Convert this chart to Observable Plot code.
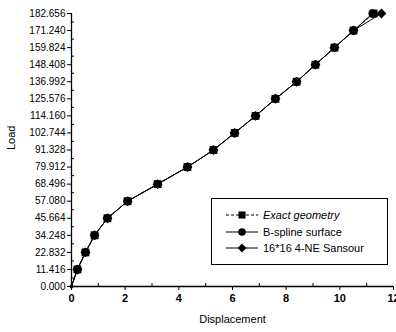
<!DOCTYPE html>
<html><head><meta charset="utf-8">
<script src="https://cdn.jsdelivr.net/npm/d3@7"></script>
<script src="https://cdn.jsdelivr.net/npm/@observablehq/plot@0.6"></script>
<style>
body{margin:0;background:#fff;}
#wrap{position:relative;width:396px;height:332px;font-family:"Liberation Sans",Arial,sans-serif;}
#legend{position:absolute;left:211px;top:198px;width:177px;height:67px;border:1px solid #000;box-sizing:border-box;background:#fff;font-size:11px;}
#legend .row{position:absolute;left:14px;height:16px;display:flex;align-items:center;}
#legend svg{margin-right:3px}
</style></head><body>
<div id="wrap"><div id="chart"></div><div id="legend"></div></div>
<script>
const loadTicks = [0, 11.416, 22.832, 34.248, 45.664, 57.080, 68.496, 79.912, 91.328, 102.744, 114.160, 125.576, 136.992, 148.408, 159.824, 171.240, 182.656];
const dispTicks = [0, 2, 4, 6, 8, 10, 12];
const dispMinor = [1, 3, 5, 7, 9, 11];
const loadValues = [0, 11.416, 22.832, 34.248, 45.664, 57.080, 68.496, 79.912, 91.328, 102.744, 114.160, 125.576, 136.992, 148.408, 159.824, 171.240, 182.656];
const exactDisp = [0, 0.22, 0.52, 0.86, 1.34, 2.09, 3.21, 4.32, 5.29, 6.08, 6.86, 7.60, 8.39, 9.09, 9.80, 10.51, 11.26];
const bsplineDisp = [0, 0.22, 0.52, 0.86, 1.34, 2.09, 3.21, 4.32, 5.29, 6.08, 6.86, 7.60, 8.39, 9.09, 9.80, 10.51, 11.22];
const sansourDisp = [0, 0.22, 0.52, 0.86, 1.34, 2.09, 3.21, 4.32, 5.29, 6.08, 6.86, 7.60, 8.39, 9.09, 9.80, 10.51, 11.55];
const seriesNames = ["Exact geometry", "B-spline surface", "16*16 4-NE Sansour"];

const loadMinor = loadTicks.slice(0, -1).map((v, i) => (v + loadTicks[i + 1]) / 2);
const mk = (disp) => disp.map((d, i) => ({x: d, y: loadValues[i]}));
const exact = mk(exactDisp), bspl = mk(bsplineDisp), sans = mk(sansourDisp);
const nz = (d) => d.y > 0;

const plot = Plot.plot({
  width: 396, height: 332,
  marginLeft: 71, marginRight: 3, marginTop: 13, marginBottom: 46,
  style: {fontFamily: "'Liberation Sans', Arial, sans-serif", fontSize: "10px", color: "#000", background: "#fff"},
  x: {domain: [0, 12]},
  y: {domain: [0, 182.656]},
  marks: [
    Plot.axisY({ticks: loadTicks, tickFormat: d3.format(".3f"), tickSize: 4, tickPadding: 2, fontSize: 10, label: null}),
    Plot.axisY({ticks: loadMinor, tickSize: -3, text: null, label: null}),
    Plot.axisX({ticks: dispTicks, tickFormat: d3.format("d"), tickSize: 4, tickPadding: 4, fontSize: 11, fontWeight: "bold", label: null}),
    Plot.axisX({ticks: dispMinor, tickSize: -3, text: null, label: null}),
    Plot.ruleX([0], {strokeWidth: 1.3}),
    Plot.ruleY([0], {strokeWidth: 1.3}),
    Plot.text(["Load"], {frameAnchor: "left", dx: -60, rotate: -90, fontSize: 11}),
    Plot.text(["Displacement"], {frameAnchor: "bottom", dy: 36, fontSize: 11}),
    Plot.line(sans, {x: "x", y: "y", stroke: "#000", strokeWidth: 1}),
    Plot.line(bspl, {x: "x", y: "y", stroke: "#000", strokeWidth: 1}),
    Plot.line(exact, {x: "x", y: "y", stroke: "#000", strokeWidth: 1, strokeDasharray: "3,2"}),
    Plot.dot(exact.filter(d => !nz(d)), {x: "x", y: "y", r: 2, fill: "#000"}),
    Plot.dot(sans.filter(nz), {x: "x", y: "y", symbol: "diamond2", r: 4.5, fill: "#000", stroke: "none"}),
    Plot.dot(bspl.filter(nz), {x: "x", y: "y", symbol: "circle", r: 4.2, fill: "#000", stroke: "none"}),
    Plot.dot(exact.filter(nz), {x: "x", y: "y", symbol: "square", r: 4.4, fill: "#000", stroke: "none"})
  ]
});
document.getElementById("chart").append(plot);

const legend = document.getElementById("legend");
const syms = ["square", "circle", "diamond2"];
const dash = ["3,2", null, null];
seriesNames.forEach((name, i) => {
  const row = document.createElement("div");
  row.className = "row";
  row.style.top = (8 + i * 16.5) + "px";
  const s = d3.create("svg").attr("width", 34).attr("height", 12);
  s.append("line").attr("x1", 0).attr("x2", 32).attr("y1", 6).attr("y2", 6).attr("stroke", "#000").attr("stroke-dasharray", dash[i]);
  const sz = syms[i] === "circle" ? 45 : 50;
  const sym = {square: d3.symbolSquare, circle: d3.symbolCircle, diamond2: d3.symbolDiamond2}[syms[i]];
  s.append("path").attr("d", d3.symbol(sym, sz)()).attr("transform", "translate(16,6)").attr("fill", "#000");
  row.append(s.node());
  const t = document.createElement("span");
  t.textContent = name;
  if (i === 0) t.style.fontStyle = "italic";
  row.append(t);
  legend.append(row);
});
</script></body></html>
